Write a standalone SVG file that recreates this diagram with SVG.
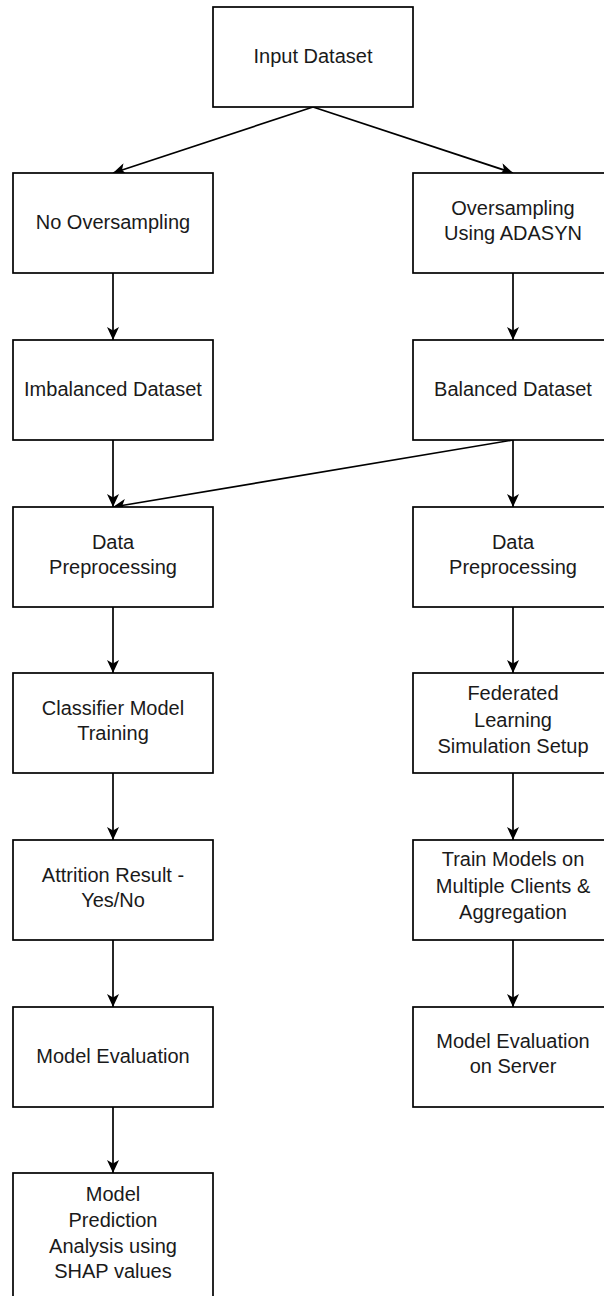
<svg xmlns="http://www.w3.org/2000/svg" width="604" height="1296" viewBox="0 0 604 1296">
<style>
.box{fill:#fff;stroke:#000;stroke-width:1.7}
.t{font-family:"Liberation Sans",Arial,Helvetica,sans-serif;font-size:20px;fill:#1a1a1a;text-anchor:middle}
.c{fill:none;stroke:#000;stroke-width:1.7;marker-end:url(#arr)}
</style>
<defs>
<marker id="arr" viewBox="0 0 13 12" refX="13" refY="6" markerWidth="13" markerHeight="12" orient="auto" markerUnits="userSpaceOnUse">
<path d="M0,0 L13,6 L0,12 L3.5,6 Z" fill="#000"/>
</marker>
</defs>
<rect width="604" height="1296" fill="#fff"/>
<g id="connectors">
<line class="c" x1="313" y1="107" x2="113" y2="173"/>
<line class="c" x1="313" y1="107" x2="513" y2="173"/>
<line class="c" x1="113" y1="273" x2="113" y2="340"/>
<line class="c" x1="513" y1="273" x2="513" y2="340"/>
<line class="c" x1="113" y1="440" x2="113" y2="507"/>
<line class="c" x1="513" y1="440" x2="113" y2="507"/>
<line class="c" x1="513" y1="440" x2="513" y2="507"/>
<line class="c" x1="113" y1="607" x2="113" y2="673"/>
<line class="c" x1="513" y1="607" x2="513" y2="673"/>
<line class="c" x1="113" y1="773" x2="113" y2="840"/>
<line class="c" x1="513" y1="773" x2="513" y2="840"/>
<line class="c" x1="113" y1="940" x2="113" y2="1007"/>
<line class="c" x1="513" y1="940" x2="513" y2="1007"/>
<line class="c" x1="113" y1="1107" x2="113" y2="1173"/>
</g>
<g id="input"><rect class="box" x="213" y="7" width="200" height="100"/><text class="t" x="313" y="63">Input Dataset</text></g>
<g id="no-over"><rect class="box" x="13" y="173" width="200" height="100"/><text class="t" x="113" y="229">No Oversampling</text></g>
<g id="adasyn"><rect class="box" x="413" y="173" width="200" height="100"/><text class="t" x="513" y="215">Oversampling</text><text class="t" x="513" y="240">Using ADASYN</text></g>
<g id="imbalanced"><rect class="box" x="13" y="340" width="200" height="100"/><text class="t" x="113" y="396">Imbalanced Dataset</text></g>
<g id="balanced"><rect class="box" x="413" y="340" width="200" height="100"/><text class="t" x="513" y="396">Balanced Dataset</text></g>
<g id="prep-left"><rect class="box" x="13" y="507" width="200" height="100"/><text class="t" x="113" y="549">Data</text><text class="t" x="113" y="574">Preprocessing</text></g>
<g id="prep-right"><rect class="box" x="413" y="507" width="200" height="100"/><text class="t" x="513" y="549">Data</text><text class="t" x="513" y="574">Preprocessing</text></g>
<g id="classifier"><rect class="box" x="13" y="673" width="200" height="100"/><text class="t" x="113" y="715">Classifier Model</text><text class="t" x="113" y="740">Training</text></g>
<g id="federated"><rect class="box" x="413" y="673" width="200" height="100"/><text class="t" x="513" y="700">Federated</text><text class="t" x="513" y="727">Learning</text><text class="t" x="513" y="753">Simulation Setup</text></g>
<g id="attrition"><rect class="box" x="13" y="840" width="200" height="100"/><text class="t" x="113" y="882">Attrition Result -</text><text class="t" x="113" y="907">Yes/No</text></g>
<g id="train"><rect class="box" x="413" y="840" width="200" height="100"/><text class="t" x="513" y="866">Train Models on</text><text class="t" x="513" y="893">Multiple Clients &amp;</text><text class="t" x="513" y="919">Aggregation</text></g>
<g id="eval-left"><rect class="box" x="13" y="1007" width="200" height="100"/><text class="t" x="113" y="1063">Model Evaluation</text></g>
<g id="eval-server"><rect class="box" x="413" y="1007" width="200" height="100"/><text class="t" x="513" y="1048">Model Evaluation</text><text class="t" x="513" y="1073">on Server</text></g>
<g id="shap"><rect class="box" x="13" y="1173" width="200" height="135"/><text class="t" x="113" y="1201">Model</text><text class="t" x="113" y="1227">Prediction</text><text class="t" x="113" y="1253">Analysis using</text><text class="t" x="113" y="1278">SHAP values</text></g>
</svg>
